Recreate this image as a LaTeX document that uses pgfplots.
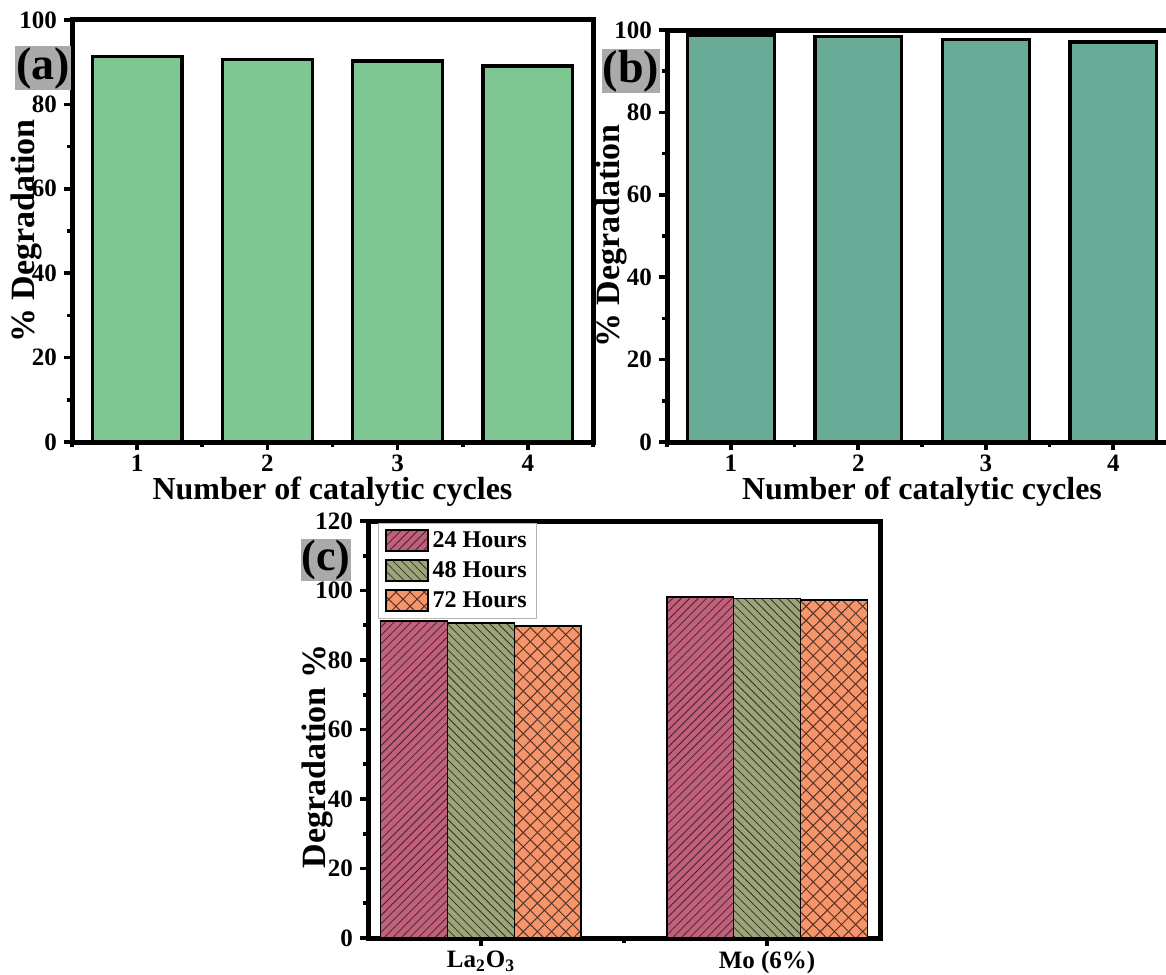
\documentclass[border=0pt]{standalone}
\usepackage{fontspec}
\setmainfont{Liberation Serif}
\usepackage{pgfplots}
\pgfplotsset{compat=1.18}
\usetikzlibrary{patterns.meta}
\definecolor{ga}{RGB}{127,198,146}
\definecolor{gb}{RGB}{106,171,152}
\definecolor{ca}{RGB}{192,96,122}
\definecolor{cb}{RGB}{156,164,121}
\definecolor{cc}{RGB}{246,149,107}
\definecolor{lblbg}{RGB}{170,170,170}
\pgfplotsset{
 myax/.style={
  scale only axis, anchor=south west,
  axis line style={line width=2.5pt},
  tick align=outside, tick pos=left,
  major tick length=4pt, minor tick length=2.5pt,
  tick style={black, line width=1.8pt},
  ticklabel style={font=\bfseries\fontsize{12.5}{14}\selectfont},
  xticklabel style={yshift=1pt},
  /pgf/number format/assume math mode=true,
  xlabel style={font=\bfseries\fontsize{16}{18}\selectfont},
  ylabel style={font=\bfseries\fontsize{17}{19}\selectfont},
  ymin=0,
 }
}
\begin{document}
\begin{tikzpicture}
\useasboundingbox (0,0) rectangle (583pt,-487pt);
\clip (0,0) rectangle (583pt,-487pt);
% (a)
\begin{axis}[myax, at={(36pt,-221pt)}, width=260.5pt, height=211pt,
  xmin=0.5, xmax=4.5, ymax=100,
  xtick={1,2,3,4}, minor xtick={0.5,1.5,2.5,3.5,4.5},
  ytick={0,20,...,100}, minor ytick={10,30,50,70,90},
  ybar, bar width=0.69,
  xlabel={Number of catalytic cycles}, ylabel={\% Degradation},
  xlabel style={at={(axis description cs:0.5,-0.117)}, anchor=center},
  ylabel style={at={(axis description cs:-0.088,0.5)}, anchor=center}]
\addplot[fill=ga, draw=black, line width=1.6pt] coordinates {(1,91.3) (2,90.7) (3,90.3) (4,89.1)};
\end{axis}
% (b)
\begin{axis}[myax, at={(333.5pt,-221pt)}, width=255pt, height=206pt,
  xmin=0.5, xmax=4.5, ymax=100,
  xtick={1,2,3,4}, minor xtick={0.5,1.5,2.5,3.5,4.5},
  ytick={0,20,...,100}, minor ytick={10,30,50,70,90},
  ybar, bar width=0.68,
  xlabel={Number of catalytic cycles}, ylabel={\% Degradation},
  xlabel style={at={(axis description cs:0.5,-0.12)}, anchor=center},
  ylabel style={at={(axis description cs:-0.108,0.5)}, anchor=center}]
\addplot[fill=gb, draw=black, line width=1.6pt] coordinates {(1,98.8) (2,98.4) (3,97.6) (4,97.1)};
\end{axis}
% (c)
\begin{axis}[myax, at={(184pt,-469pt)}, width=256pt, height=208.5pt,
  xmin=0.605, xmax=2.395, ymax=120,
  xtick={1,2}, xticklabels={La\textsubscript{2}O\textsubscript{3}, Mo (6\%)},
  minor xtick={1.5},
  ytick={0,20,...,120}, minor ytick={10,30,...,110},
  ybar, bar width=0.234,
  ylabel={Degradation \%},
  ylabel style={at={(axis description cs:-0.098,0.435)}, anchor=center},
  legend cell align=left,
  legend style={at={(0.02,0.995)}, anchor=north west, draw=gray!60, line width=0.6pt,
    font=\bfseries\fontsize{12}{14}\selectfont, row sep=1.5pt,
    nodes={inner sep=2pt}},
  legend image code/.code={\draw[#1] (0pt,-5pt) rectangle (21pt,5.5pt);}]
\addplot[bar shift=-0.234, fill=ca, draw=black, line width=0.9pt,
  postaction={pattern={Lines[angle=45,distance=3pt,line width=0.4pt]}, pattern color=ca!35!black}]
  coordinates {(1,91.2) (2,98.1)};
\addplot[bar shift=0, fill=cb, draw=black, line width=0.9pt,
  postaction={pattern={Lines[angle=-45,distance=3pt,line width=0.4pt]}, pattern color=cb!30!black}]
  coordinates {(1,90.6) (2,97.7)};
\addplot[bar shift=0.234, fill=cc, draw=black, line width=0.9pt,
  postaction={pattern={Lines[angle=45,distance=5pt,line width=0.5pt]}, pattern color=cc!35!black},
  postaction={pattern={Lines[angle=-45,distance=5pt,line width=0.5pt]}, pattern color=cc!35!black}]
  coordinates {(1,89.9) (2,97.2)};
\legend{24 Hours, 48 Hours, 72 Hours}
\end{axis}
\node[fill=lblbg, inner sep=0.5pt, font=\bfseries\fontsize{23}{25}\selectfont] at (21.5pt,-34pt) {(a)};
\node[fill=lblbg, inner sep=0.5pt, font=\bfseries\fontsize{23}{25}\selectfont] at (315.5pt,-35.5pt) {(b)};
\node[fill=lblbg, inner sep=0.3pt, font=\bfseries\fontsize{22}{24}\selectfont] at (163pt,-280pt) {(c)};
\end{tikzpicture}
\end{document}
